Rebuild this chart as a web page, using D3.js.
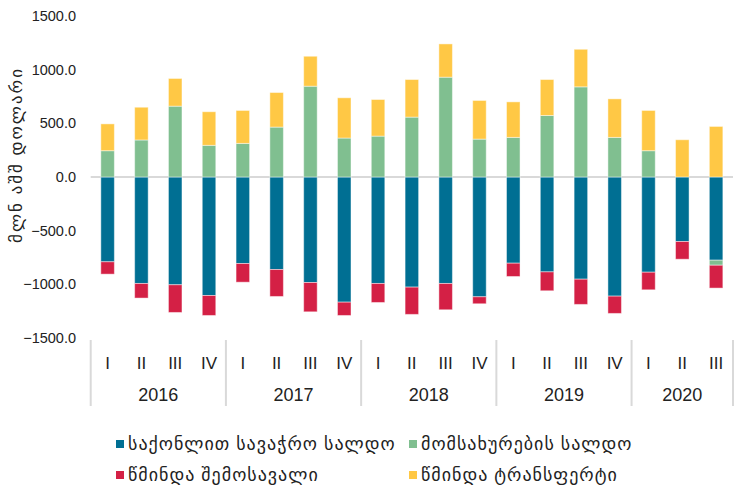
<!DOCTYPE html>
<html>
<head>
<meta charset="utf-8">
<script src="https://cdn.jsdelivr.net/npm/d3@7"></script>
<style>
  body { margin: 0; background: #fff; }
  svg { display: block; font-family: Arial, "Liberation Sans", "DejaVu Sans", sans-serif; }
</style>
</head>
<body>
<svg id="chart" width="742" height="485"></svg>
<script>
// კვარტლები და წლები
const years = ['2016', '2017', '2018', '2019', '2020'];
const quarters = ['I', 'II', 'III', 'IV', 'I', 'II', 'III', 'IV', 'I', 'II', 'III', 'IV',
  'I', 'II', 'III', 'IV', 'I', 'II', 'III'];
const quarterYear = ['2016', '2016', '2016', '2016', '2017', '2017', '2017', '2017',
  '2018', '2018', '2018', '2018', '2019', '2019', '2019', '2019', '2020', '2020', '2020'];

// სერიები, მლნ აშშ დოლარი
const goods = [-790, -992, -1004, -1104, -806, -862, -983, -1166, -992, -1026, -992, -1116,
  -803, -884, -952, -1110, -887, -601, -775];
const services = [245, 345, 660, 295, 313, 465, 846, 363, 381, 558, 930, 353,
  369, 573, 840, 369, 245, 0, -47];
const income = [-115, -136, -258, -186, -174, -251, -273, -124, -177, -254, -245, -65,
  -124, -176, -235, -161, -164, -165, -213];
const transfers = [250, 305, 258, 313, 307, 322, 279, 375, 341, 350, 310, 360,
  331, 335, 350, 359, 375, 347, 471];

const yTicks = [1500, 1000, 500, 0, -500, -1000, -1500];

const seriesKeys = ['goods', 'services', 'income', 'transfers'];
const seriesNames = ['საქონლით სავაჭრო სალდო', 'მომსახურების სალდო',
  'წმინდა შემოსავალი', 'წმინდა ტრანსფერტი'];
const seriesColors = ['#006f93', '#80bf90', '#d42045', '#ffc845'];

// ცხრილი d3.stack-ისთვის
const rows = quarters.map((q, i) => ({
  idx: i, goods: goods[i], services: services[i], income: income[i], transfers: transfers[i]
}));

const svg = d3.select('#chart');

const x = d3.scaleBand()
  .domain(rows.map(d => d.idx))
  .range([90.7, 733])
  .paddingInner(0.6)
  .paddingOuter(0.3);

const y = d3.scaleLinear()
  .domain([-1500, 1500])
  .range([338, 16]);

const stacked = d3.stack()
  .keys(seriesKeys)
  .offset(d3.stackOffsetDiverging)(rows);

// ნულოვანი ხაზი
svg.append('line')
  .attr('x1', 90.7).attr('x2', 733)
  .attr('y1', y(0)).attr('y2', y(0))
  .attr('stroke', '#d9d9d9')
  .attr('stroke-width', 2);

// სვეტები
svg.append('g')
  .selectAll('g')
  .data(stacked)
  .join('g')
  .attr('fill', (d, i) => seriesColors[i])
  .selectAll('rect')
  .data(d => d)
  .join('rect')
  .attr('x', d => x(d.data.idx))
  .attr('width', x.bandwidth())
  .attr('y', d => y(Math.max(d[0], d[1])))
  .attr('height', d => Math.abs(y(d[0]) - y(d[1])))
  .attr('stroke', 'rgba(255,255,255,0.45)')
  .attr('stroke-width', 1);

// Y ღერძის ნიშნულები
svg.append('g')
  .selectAll('text')
  .data(yTicks)
  .join('text')
  .attr('x', 76)
  .attr('y', d => y(d))
  .attr('text-anchor', 'end')
  .attr('dominant-baseline', 'central')
  .attr('font-size', '14.5px')
  .attr('fill', '#222')
  .text(d => d3.format('.1f')(d));

// Y ღერძის სათაური
svg.append('text')
  .attr('transform', 'translate(16,155) rotate(-90)')
  .attr('text-anchor', 'middle')
  .attr('dominant-baseline', 'central')
  .attr('font-size', '17px')
  .attr('letter-spacing', '2px')
  .attr('fill', '#222')
  .text('მლნ აშშ დოლარი');

// კატეგორიების ღერძი
const gap = x.step() - x.bandwidth();
const separators = years.map(yr => quarterYear.indexOf(yr));
const sepX = separators.map(i => x(i) - gap / 2);
sepX.push(x(rows.length - 1) + x.bandwidth() + gap / 2);

svg.append('g')
  .selectAll('line')
  .data(sepX)
  .join('line')
  .attr('x1', d => d).attr('x2', d => d)
  .attr('y1', 340).attr('y2', 406)
  .attr('stroke', '#d9d9d9')
  .attr('stroke-width', 2);

svg.append('g')
  .selectAll('text')
  .data(rows)
  .join('text')
  .attr('x', d => x(d.idx) + x.bandwidth() / 2)
  .attr('y', 363)
  .attr('text-anchor', 'middle')
  .attr('dominant-baseline', 'central')
  .attr('font-size', '17px')
  .attr('fill', '#222')
  .text(d => quarters[d.idx]);

svg.append('g')
  .selectAll('text')
  .data(years)
  .join('text')
  .attr('x', (d, i) => (sepX[i] + sepX[i + 1]) / 2)
  .attr('y', 395)
  .attr('text-anchor', 'middle')
  .attr('dominant-baseline', 'central')
  .attr('font-size', '18px')
  .attr('fill', '#222')
  .text(d => d);

// ლეგენდა
const legendPos = [[116, 444], [409, 444], [116, 475], [409, 475]];
const legend = svg.append('g')
  .selectAll('g')
  .data(seriesNames)
  .join('g')
  .attr('transform', (d, i) => `translate(${legendPos[i][0]},${legendPos[i][1]})`);

legend.append('rect')
  .attr('x', 0).attr('y', -4)
  .attr('width', 8).attr('height', 8)
  .attr('fill', (d, i) => seriesColors[i]);

legend.append('text')
  .attr('x', 12)
  .attr('y', 0)
  .attr('dominant-baseline', 'central')
  .attr('font-size', '18px')
  .attr('letter-spacing', '1px')
  .attr('fill', '#222')
  .text(d => d);
</script>
</body>
</html>
